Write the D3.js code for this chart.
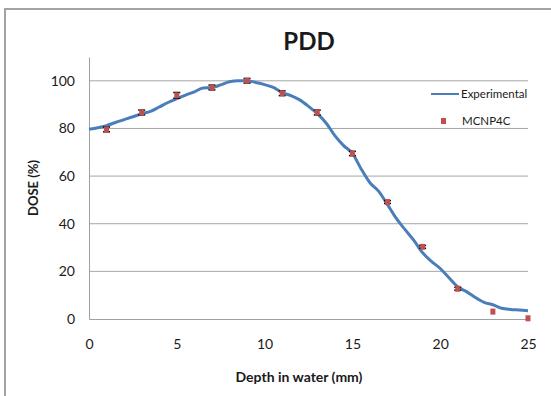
<!DOCTYPE html>
<html>
<head>
<meta charset="utf-8">
<script src="https://cdn.jsdelivr.net/npm/d3@7"></script>
<style>
  body { margin: 0; background: #fff; }
  text { font-family: Lato, "Open Sans", sans-serif; fill: #1a1a1a; }
</style>
</head>
<body>
<div id="chart-area"></div>
<script>
const MARGIN = { LEFT: 89, RIGHT: 23, TOP: 57, BOTTOM: 77 }
const W = 551, H = 396
const WIDTH = W - MARGIN.LEFT - MARGIN.RIGHT
const HEIGHT = H - MARGIN.TOP - MARGIN.BOTTOM

// Experimental PDD curve
const expDepth = [0, 0.5, 1, 1.5, 2, 2.5, 3, 3.5, 4, 4.5, 5, 5.5, 6, 6.5, 7, 7.5, 8, 8.5, 9, 9.5,
  10, 10.5, 11, 11.5, 12, 12.5, 13, 13.5, 14, 14.5, 15, 15.5, 16, 16.5, 17, 17.5, 18, 18.5, 19, 19.5,
  20, 20.5, 21, 21.5, 22, 22.5, 23, 23.5, 24, 24.5, 25]
const expDose = [79.7, 80.3, 81.2, 82.5, 83.7, 84.9, 86.2, 87.2, 89.0, 90.9, 92.5, 94.0, 95.4, 97.0, 97.2, 98.3, 99.6, 100.0, 100.0, 99.3,
  98.4, 97.2, 95.0, 93.8, 92.0, 89.3, 86.2, 82.3, 77.0, 72.8, 69.5, 63.0, 57.2, 53.6, 48.0, 42.2, 37.5, 33.0, 27.8, 24.2,
  21.2, 17.3, 13.5, 11.5, 9.0, 7.0, 6.0, 4.5, 4.0, 3.8, 3.5]

// MCNP4C points with error
const mcDepth = [1, 3, 5, 7, 9, 11, 13, 15, 17, 19, 21, 23, 25]
const mcDose = [79.6, 86.7, 93.9, 97.2, 100, 94.8, 86.7, 69.5, 49.1, 30.3, 12.7, 3.1, 0.3]
const mcErr = [1.0, 1.0, 1.2, 1.0, 1.0, 1.0, 1.0, 0.9, 0.6, 0.6, 0.6, 0, 0]

const xTicks = [0, 5, 10, 15, 20, 25]
const yTicks = [0, 20, 40, 60, 80, 100]

const svg = d3.select("#chart-area").append("svg")
  .attr("width", W)
  .attr("height", H)

// outer chart border
svg.append("rect")
  .attr("x", 5).attr("y", 9)
  .attr("width", 700).attr("height", 600)
  .attr("fill", "none")
  .attr("stroke", "#a3a3a3")
  .attr("stroke-width", 2)

const g = svg.append("g")
  .attr("transform", `translate(${MARGIN.LEFT}, ${MARGIN.TOP})`)

const x = d3.scaleLinear().domain([0, 25]).range([0, WIDTH])
const y = d3.scaleLinear().domain([0, 110]).range([HEIGHT, 0])

// gridlines
g.append("g")
  .selectAll("line")
  .data(yTicks.filter(d => d > 0))
  .enter().append("line")
  .attr("x1", 0).attr("x2", WIDTH)
  .attr("y1", d => y(d)).attr("y2", d => y(d))
  .attr("stroke", "#a6a6a6")
  .attr("stroke-width", 1)

// axes
const xAxisCall = d3.axisBottom(x).tickValues(xTicks).tickSize(0).tickPadding(20)
const xAx = g.append("g")
  .attr("transform", `translate(0, ${HEIGHT})`)
  .call(xAxisCall)
xAx.select(".domain").attr("stroke", "#a0a0a0")
xAx.selectAll("text").attr("font-size", "14px").style("font-family", "Lato, sans-serif").attr("fill", "#1a1a1a")

const yAxisCall = d3.axisLeft(y).tickValues(yTicks).tickSize(0).tickPadding(14)
const yAx = g.append("g").call(yAxisCall)
yAx.select(".domain").attr("stroke", "#a0a0a0")
yAx.selectAll("text").attr("font-size", "14px").style("font-family", "Lato, sans-serif").attr("fill", "#1a1a1a")

// experimental line
const line = d3.line()
  .x((d, i) => x(expDepth[i]))
  .y(d => y(d))
  .curve(d3.curveMonotoneX)

g.append("path")
  .datum(expDose)
  .attr("d", line)
  .attr("fill", "none")
  .attr("stroke", "#4a7ebb")
  .attr("stroke-width", 3)

// error bars
const eb = g.append("g")
mcDepth.forEach((d, i) => {
  if (mcErr[i] <= 0) return
  const cx = x(d), y1 = y(mcDose[i] - mcErr[i]), y2 = y(mcDose[i] + mcErr[i])
  eb.append("line").attr("x1", cx).attr("x2", cx).attr("y1", y1).attr("y2", y2)
    .attr("stroke", "#000").attr("stroke-width", 1)
  eb.append("line").attr("x1", cx - 3.5).attr("x2", cx + 3.5).attr("y1", y1).attr("y2", y1)
    .attr("stroke", "#000").attr("stroke-width", 1.5)
  eb.append("line").attr("x1", cx - 3.5).attr("x2", cx + 3.5).attr("y1", y2).attr("y2", y2)
    .attr("stroke", "#000").attr("stroke-width", 1.5)
})

// MCNP4C markers
g.selectAll("rect.pt")
  .data(mcDose)
  .enter().append("rect")
  .attr("class", "pt")
  .attr("x", (d, i) => x(mcDepth[i]) - 2.5)
  .attr("y", d => y(d) - 3)
  .attr("width", 5)
  .attr("height", 6)
  .attr("fill", "#c0504d")

// Title
svg.append("text")
  .attr("x", 309)
  .attr("y", 50)
  .attr("text-anchor", "middle")
  .style("font-size", "24px")
  .style("font-weight", "bold")
  .text("PDD")

// X label
svg.append("text")
  .attr("x", 299)
  .attr("y", 382)
  .attr("text-anchor", "middle")
  .style("font-size", "14px")
  .style("font-weight", "bold")
  .text("Depth in water (mm)")

// Y label
svg.append("text")
  .attr("transform", "translate(38, 188) rotate(-90)")
  .attr("text-anchor", "middle")
  .style("font-size", "13px")
  .style("font-weight", "bold")
  .text("DOSE (%)")

// Legend
const lg = svg.append("g")
lg.append("line")
  .attr("x1", 431).attr("x2", 459).attr("y1", 94).attr("y2", 94)
  .attr("stroke", "#4a7ebb").attr("stroke-width", 2)
lg.append("text")
  .attr("x", 461).attr("y", 94).attr("dy", "0.35em")
  .style("font-size", "11.5px")
  .text("Experimental")
lg.append("rect")
  .attr("x", 441).attr("y", 118).attr("width", 5).attr("height", 6)
  .attr("fill", "#c0504d")
lg.append("text")
  .attr("x", 462).attr("y", 121).attr("dy", "0.35em")
  .style("font-size", "11.5px")
  .text("MCNP4C")
</script>
</body>
</html>
